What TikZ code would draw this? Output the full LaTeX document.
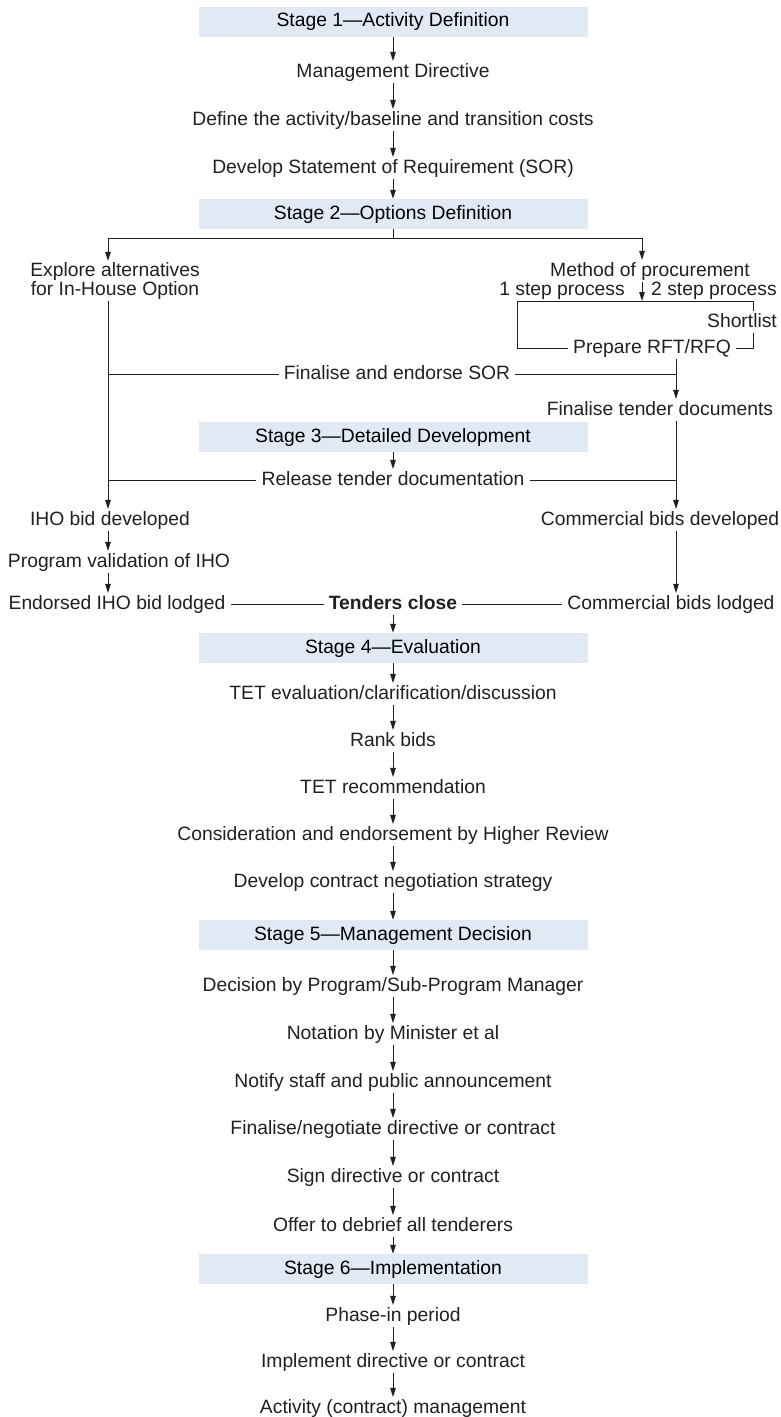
\documentclass[tikz,border=0pt]{standalone}
\usepackage{fontspec}
\setmainfont{Liberation Sans}
\usepackage{xcolor}
\usepackage{tikz}
\usetikzlibrary{arrows.meta, positioning}
\definecolor{stagecolor}{RGB}{225,233,245}
\definecolor{flowcolor}{RGB}{35,31,32}
\newcommand{\chartfont}{\fontsize{19.3}{19}\selectfont}

\begin{document}
\begin{tikzpicture}[
    x=1pt, y=-1pt,
    stagebox/.style={fill=stagecolor, minimum width=389pt, minimum height=30pt, inner sep=0pt, font=\chartfont, text height=14.5pt, text depth=4.2pt},
    entry/.style={inner xsep=5pt, inner ysep=1.5pt, font=\chartfont, text height=14.5pt, text depth=4.2pt, text=flowcolor},
    twoline/.style={inner xsep=5pt, inner ysep=1.5pt, font=\chartfont, align=center, text=flowcolor},
    arrow/.style={-{Triangle[length=9pt, width=5.5pt]}, line width=1pt, flowcolor},
    link/.style={line width=1pt, flowcolor}
]
    \useasboundingbox (0,0) rectangle (780,1417);

    % Stage boxes
    \node[stagebox] (stage1) at (393,21.5) {Stage 1—Activity Definition};
    \node[stagebox] (stage2) at (393,214) {Stage 2—Options Definition};
    \node[stagebox] (stage3) at (393,437) {Stage 3—Detailed Development};
    \node[stagebox] (stage4) at (393,648) {Stage 4—Evaluation};
    \node[stagebox] (stage5) at (393,935) {Stage 5—Management Decision};
    \node[stagebox] (stage6) at (393,1269) {Stage 6—Implementation};

    % Stage 1
    \node[entry] (directive) at (393,72) {Management Directive};
    \node[entry] (define) at (393,120) {Define the activity/baseline and transition costs};
    \node[entry] (develop) at (393,168) {Develop Statement of Requirement (SOR)};

    % Stage 2 branches
    \coordinate (split) at (393,238);
    \coordinate (lcol) at (108,238);
    \coordinate (rcol) at (642,238);
    \coordinate (tcol) at (676,301);
    \node[twoline] (explore) at (115,281) {Explore alternatives\\for In-House Option};
    \node[entry] (method) at (650,271) {Method of procurement};
    \node[entry, anchor=east] (onestep) at (630,290) {1 step process};
    \node[entry, anchor=west] (twostep) at (646,290) {2 step process};
    \coordinate (fork) at (642,301);
    \coordinate (boxl) at (517,301);
    \coordinate (boxr) at (753,301);
    \node[entry] (shortlist) at (742,322) {Shortlist};
    \node[entry] (rfq) at (652,348) {Prepare RFT/RFQ};
    \node[entry] (endorse) at (397,374) {Finalise and endorse SOR};
    \node[entry] (tenderdocs) at (660,410) {Finalise tender documents};

    % Stage 3
    \node[entry] (release) at (393,480) {Release tender documentation};
    \node[entry] (ihobid) at (110,520) {IHO bid developed};
    \node[entry] (combids) at (660,520) {Commercial bids developed};
    \node[entry] (validate) at (119,562) {Program validation of IHO};
    \node[entry] (ihologged) at (117,604) {Endorsed IHO bid lodged};
    \node[entry, font=\chartfont\bfseries] (close) at (393,604) {Tenders close};
    \node[entry] (comlogged) at (671,604) {Commercial bids lodged};

    % Stage 4
    \node[entry] (teteval) at (393,694) {TET evaluation/clarification/discussion};
    \node[entry] (rank) at (393,741) {Rank bids};
    \node[entry] (tetrec) at (393,788) {TET recommendation};
    \node[entry] (review) at (393,835) {Consideration and endorsement by Higher Review};
    \node[entry] (strategy) at (393,882) {Develop contract negotiation strategy};

    % Stage 5
    \node[entry] (decision) at (393,986) {Decision by Program/Sub-Program Manager};
    \node[entry] (notation) at (393,1034) {Notation by Minister et al};
    \node[entry] (notify) at (393,1082) {Notify staff and public announcement};
    \node[entry] (negotiate) at (393,1129) {Finalise/negotiate directive or contract};
    \node[entry] (sign) at (393,1177) {Sign directive or contract};
    \node[entry] (debrief) at (393,1226) {Offer to debrief all tenderers};

    % Stage 6
    \node[entry] (phasein) at (393,1316) {Phase-in period};
    \node[entry] (implement) at (393,1362) {Implement directive or contract};
    \node[entry] (manage) at (393,1408) {Activity (contract) management};

    % Arrows, Stage 1
    \draw[arrow] (stage1) -- (directive);
    \draw[arrow] (directive) -- (define);
    \draw[arrow] (define) -- (develop);
    \draw[arrow] (develop) -- (stage2);

    % Arrows, Stage 2
    \draw[link] (stage2) -- (split);
    \draw[link] (lcol) -- (rcol);
    \draw[arrow] (lcol) -- (explore.north -| lcol);
    \draw[arrow] (rcol) -- (method.north -| rcol);
    \draw[arrow] (method.south -| fork) -- (fork);
    \draw[link] (boxl) -- (boxr);
    \draw[link] (boxl) |- (rfq.west);
    \draw[link] (boxr) -- (shortlist.north -| boxr);
    \draw[link] (shortlist.south -| boxr) |- (rfq.east);
    \draw[arrow] (rfq.south -| tcol) -- (tenderdocs.north -| tcol);
    \draw[link] (endorse.west) -- (endorse.west -| lcol);
    \draw[link] (endorse.east) -- (endorse.east -| tcol);

    % Arrows, Stage 3
    \draw[arrow] (explore.south -| lcol) -- (ihobid.north -| lcol);
    \draw[arrow] (stage3) -- (release);
    \draw[link] (release.west) -- (release.west -| lcol);
    \draw[link] (release.east) -- (release.east -| tcol);
    \draw[arrow] (tenderdocs.south -| tcol) -- (combids.north -| tcol);
    \draw[arrow] (ihobid.south -| lcol) -- (validate.north -| lcol);
    \draw[arrow] (validate.south -| lcol) -- (ihologged.north -| lcol);
    \draw[arrow] (combids.south -| tcol) -- (comlogged.north -| tcol);
    \draw[link] (ihologged) -- (close);
    \draw[link] (close) -- (comlogged);
    \draw[arrow] (close) -- (stage4);

    % Arrows, Stage 4
    \draw[arrow] (stage4) -- (teteval);
    \draw[arrow] (teteval) -- (rank);
    \draw[arrow] (rank) -- (tetrec);
    \draw[arrow] (tetrec) -- (review);
    \draw[arrow] (review) -- (strategy);
    \draw[arrow] (strategy) -- (stage5);

    % Arrows, Stage 5
    \draw[arrow] (stage5) -- (decision);
    \draw[arrow] (decision) -- (notation);
    \draw[arrow] (notation) -- (notify);
    \draw[arrow] (notify) -- (negotiate);
    \draw[arrow] (negotiate) -- (sign);
    \draw[arrow] (sign) -- (debrief);
    \draw[arrow] (debrief) -- (stage6);

    % Arrows, Stage 6
    \draw[arrow] (stage6) -- (phasein);
    \draw[arrow] (phasein) -- (implement);
    \draw[arrow] (implement) -- (manage);
\end{tikzpicture}
\end{document}
